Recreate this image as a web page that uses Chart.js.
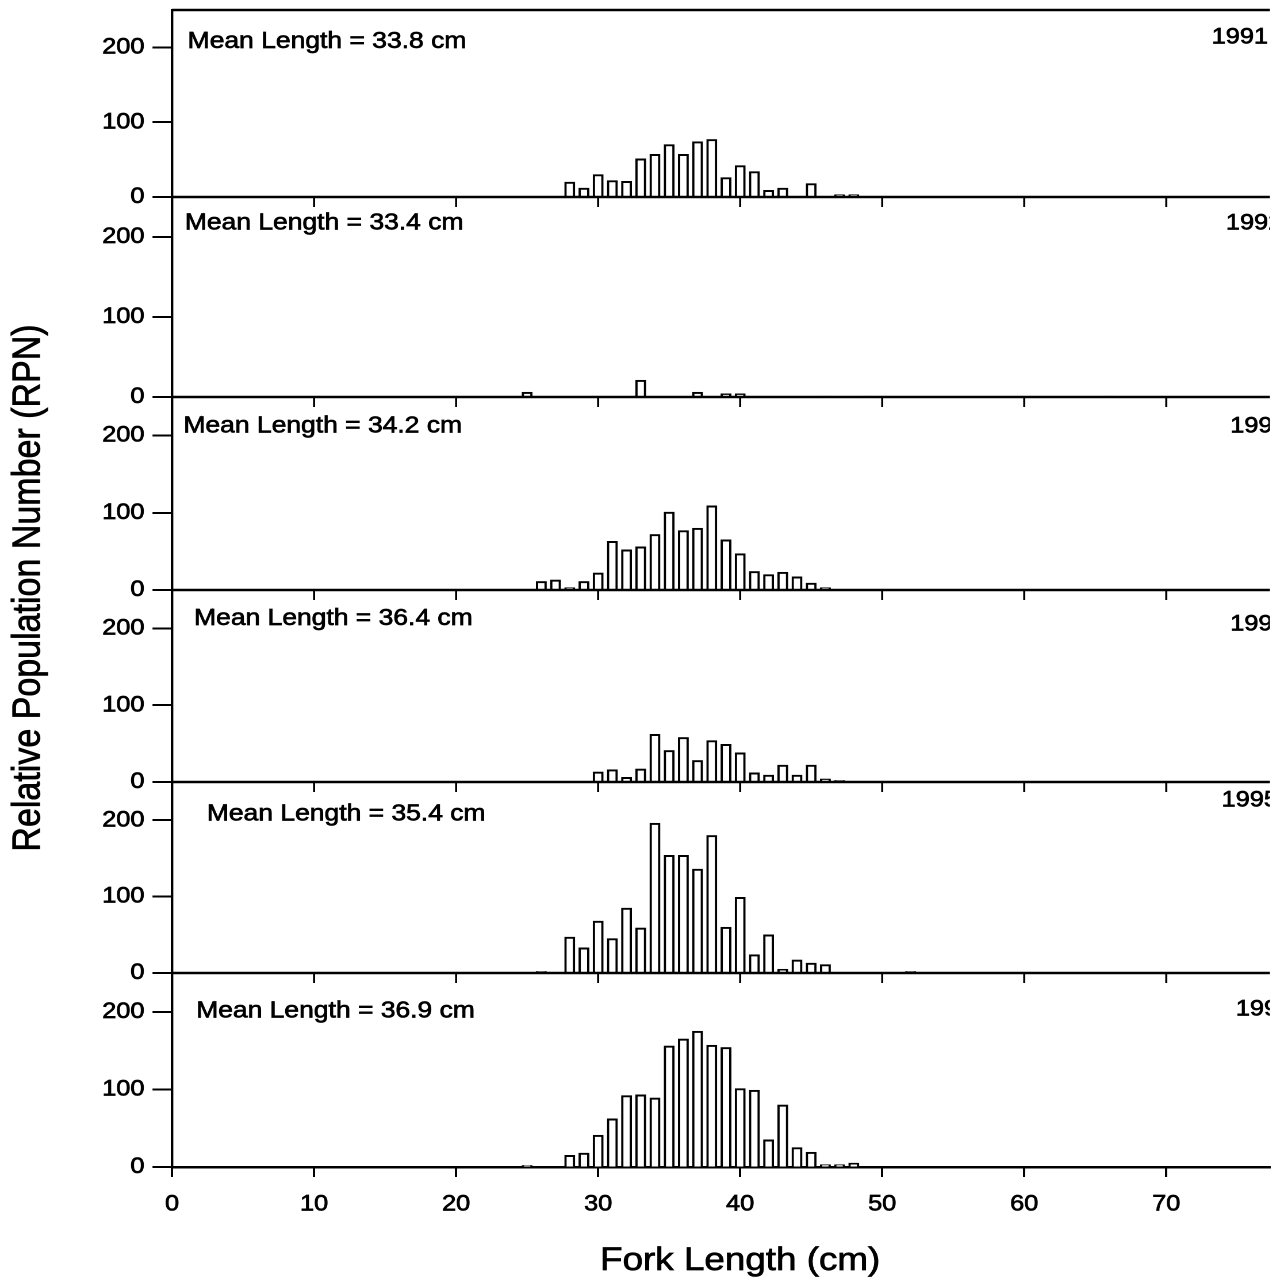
<!DOCTYPE html>
<html>
<head>
<meta charset="utf-8">
<title>Fork length frequency by year</title>
<script src="https://cdn.jsdelivr.net/npm/chart.js@4.4.1/dist/chart.umd.min.js"></script>
<style>
  html, body { margin: 0; padding: 0; background: #fff; overflow: hidden; }
  /* the figure is drawn slightly narrow, then widened like the printed plate */
  #wrap { width: 1120px; height: 1282px; transform: scaleX(1.15); transform-origin: 0 0; }
</style>
</head>
<body>
<div id="wrap"><canvas id="rpnChart" width="1120" height="1282"></canvas></div>
<script>
// ---- Data ----

// 1 cm length classes that had catch in at least one year
const bins = [25, 26, 27, 28, 29, 30, 31, 32, 33, 34, 35, 36, 37, 38, 39, 40,
              41, 42, 43, 44, 45, 46, 47, 48, 49, 50, 51, 52, 66];

const years = ['1991', '1992', '1993', '1994', '1995', '1996'];
const meanLengths = [33.8, 33.4, 34.2, 36.4, 35.4, 36.9];

//                 25  26  27  28  29  30  31  32  33   34   35   36   37   38   39  40  41  42  43  44  45  46 47 48 49 50 51 52 66
const rpn1991 = [   0,  0,  0, 20, 12, 30, 22, 21, 51,  57,  70,  57,  74,  77,  26, 42, 34,  9, 12,  0, 18,  0, 3, 3, 0, 0, 0, 0, 0];
const rpn1992 = [   6,  0,  0,  0,  0,  0,  0,  0, 21,   0,   0,   0,   6,   0,   4,  4,  0,  0,  0,  0,  0,  1, 0, 0, 1, 0, 0, 0, 1];
const rpn1993 = [   0, 11, 13,  3, 11, 22, 63, 52, 56,  72, 101,  77,  80, 109,  65, 47, 24, 20, 23, 17,  9,  3, 0, 0, 0, 0, 0, 0, 0];
const rpn1994 = [   0,  0,  0,  0,  0, 13, 16,  6, 17,  62,  41,  58,  28,  54,  49, 38, 12,  9, 22,  9, 22,  4, 2, 0, 0, 0, 0, 0, 0];
const rpn1995 = [   0,  2,  0, 47, 33, 68, 45, 85, 59, 196, 154, 154, 136, 180,  60, 99, 24, 50,  5, 17, 13, 11, 0, 0, 0, 0, 0, 2, 0];
const rpn1996 = [   2,  0,  0, 15, 18, 41, 62, 92, 93,  89, 156, 165, 175, 157, 154,101, 99, 35, 80, 25, 19,  3, 3, 5, 0, 0, 0, 0, 0];

const series = [rpn1991, rpn1992, rpn1993, rpn1994, rpn1995, rpn1996];

// ---- Layout ----

const FONT = '"Liberation Sans", Arial, Helvetica, sans-serif';
const INK = 0.7; // stroke added to text so it reads as heavy as the print
const panelHeights = [187, 200, 193, 192, 191, 194];
const meanPos = [
  { x: 1.1, y: 208 }, { x: 0.9, y: 217 }, { x: 0.8, y: 212 },
  { x: 1.55, y: 213 }, { x: 2.45, y: 208 }, { x: 1.7, y: 201 }
];
const yearPos = [
  { x: 73.2, y: 213 }, { x: 74.2, y: 217 }, { x: 74.5, y: 212 },
  { x: 74.5, y: 205 }, { x: 73.9, y: 226 }, { x: 74.9, y: 203 }
];

// ---- Scales ----

const tickFont = { family: FONT, size: 22 };

const scales = {
  x: {
    type: 'linear',
    min: 0,
    max: 77.3,
    offset: false,
    z: 1,
    afterFit: s => { s.height = 115; s.paddingLeft = 0; s.paddingRight = 0; },
    ticks: { stepSize: 10, includeBounds: false, padding: 14, maxRotation: 0, color: '#000', font: tickFont,
             textStrokeColor: '#000', textStrokeWidth: INK },
    grid: { drawOnChartArea: false, offset: false, tickLength: 10, tickWidth: 2, tickColor: '#000' },
    border: { color: '#000', width: 2.5 }
  }
};

years.forEach((yr, i) => {
  scales['y' + i] = {
    type: 'linear',
    position: 'left',
    stack: 'panels',
    stackWeight: panelHeights[i],
    weight: years.length - i,
    min: 0,
    max: 250,
    afterFit: s => { s.width = 149.6; s.paddingTop = 0; s.paddingBottom = 0; },
    ticks: { stepSize: 100, includeBounds: false, padding: 7, color: '#000', font: tickFont,
             textStrokeColor: '#000', textStrokeWidth: INK },
    grid: { drawOnChartArea: false, tickLength: 17, tickWidth: 2, tickColor: '#000' },
    border: { color: '#000', width: 2.2 }
  };
});

// ---- Panel frame, labels and axis titles ----

function hline(ctx, x1, x2, y) {
  ctx.beginPath();
  ctx.moveTo(x1, y);
  ctx.lineTo(x2, y);
  ctx.stroke();
}

function inkText(ctx, text, x, y) {
  ctx.fillText(text, x, y);
  ctx.strokeText(text, x, y);
}

const panelFrame = {
  id: 'panelFrame',
  afterDraw(chart) {
    const { ctx, chartArea: area, scales: sc } = chart;
    const xs = sc.x;
    ctx.save();
    ctx.strokeStyle = '#000';
    ctx.lineWidth = 2.5;
    hline(ctx, area.left, area.right, area.top);

    // baseline and downward ticks for every panel except the bottom one
    years.forEach((yr, i) => {
      if (i === years.length - 1) return;
      const y0 = sc['y' + i].getPixelForValue(0);
      ctx.lineWidth = 2.5;
      hline(ctx, area.left, area.right, y0);
      ctx.lineWidth = 1.8;
      xs.ticks.forEach(t => {
        const px = xs.getPixelForValue(t.value);
        ctx.beginPath();
        ctx.moveTo(px, y0);
        ctx.lineTo(px, y0 + 10);
        ctx.stroke();
      });
    });

    // panel captions, clipped at the right edge of the plot
    ctx.beginPath();
    ctx.rect(area.left, 0, area.right - area.left, chart.height);
    ctx.clip();
    ctx.fillStyle = '#000';
    ctx.lineWidth = INK;
    ctx.textBaseline = 'middle';
    ctx.textAlign = 'left';
    years.forEach((yr, i) => {
      const ys = sc['y' + i];
      ctx.font = '23px ' + FONT;
      inkText(ctx, 'Mean Length = ' + meanLengths[i].toFixed(1) + ' cm',
        xs.getPixelForValue(meanPos[i].x), ys.getPixelForValue(meanPos[i].y));
      ctx.font = '22px ' + FONT;
      inkText(ctx, yr, xs.getPixelForValue(yearPos[i].x), ys.getPixelForValue(yearPos[i].y));
    });
    ctx.restore();

    // axis titles
    ctx.save();
    ctx.fillStyle = '#000';
    ctx.strokeStyle = '#000';
    ctx.lineWidth = INK;
    ctx.textAlign = 'center';
    ctx.textBaseline = 'middle';
    ctx.font = '32px ' + FONT;
    inkText(ctx, 'Fork Length (cm)', xs.getPixelForValue(40), 1261);
    ctx.translate(25, 588);
    ctx.rotate(-Math.PI / 2);
    ctx.font = '34px ' + FONT;
    inkText(ctx, 'Relative Population Number (RPN)', 0, 0);
    ctx.restore();
  }
};

// ---- Chart ----

const datasets = series.map((vals, i) => ({
  label: years[i],
  yAxisID: 'y' + i,
  data: bins.map((cm, j) => ({ x: cm, y: vals[j] > 0 ? vals[j] : null })),
  backgroundColor: '#fff',
  borderColor: '#000',
  borderWidth: 2,
  borderSkipped: 'start',
  barThickness: 8.8,
  grouped: false
}));

new Chart(document.getElementById('rpnChart'), {
  type: 'bar',
  data: { datasets },
  options: {
    responsive: false,
    animation: false,
    devicePixelRatio: 2,
    layout: { padding: { top: 10, right: 15.7, bottom: 0, left: 0 } },
    plugins: { legend: { display: false }, tooltip: { enabled: false } },
    scales
  },
  plugins: [panelFrame]
});
</script>
</body>
</html>
